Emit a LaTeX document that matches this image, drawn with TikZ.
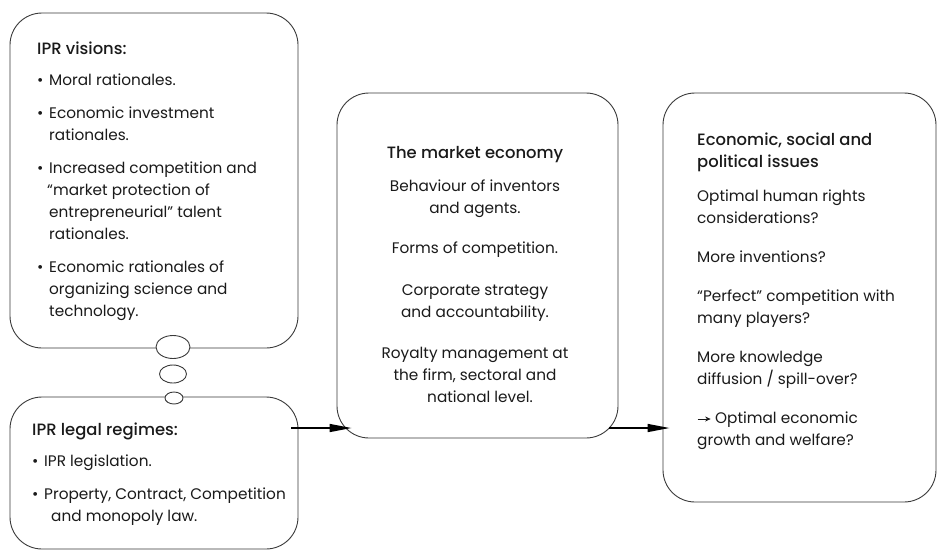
\documentclass[tikz,border=0pt]{standalone}
\usepackage{fontspec}
\IfFontExistsTF{Poppins Medium}%
  {\setmainfont{Poppins}[BoldFont=Poppins Medium]}%
  {\setmainfont{Poppins}}
\usetikzlibrary{arrows.meta,calc,shapes.geometric}

\definecolor{edge}{HTML}{3A3A3A}
\definecolor{ink}{HTML}{1A1A1A}

% bullet item with hanging indent, and box headings
\newcommand{\itm}{\makebox[12pt][l]{•}}
\newcommand{\hang}{\hspace*{12pt}}
\newcommand{\heading}[1]{{\fontsize{16.4}{22}\selectfont\bfseries #1}}

\begin{document}
\begin{tikzpicture}[x=1pt,y=-1pt,
  card/.style={draw=edge, line width=0.9pt, rounded corners=32pt,
    rectangle, inner sep=0pt, fill=white},
  bubble/.style={draw=edge, line width=0.9pt, ellipse, fill=white, inner sep=0pt},
  txt/.style={text=ink, inner sep=0pt, font=\fontsize{15.3}{22}\selectfont},
  flow/.style={draw=black, line width=1.4pt, -{Triangle[length=22pt,width=8pt]}}
]
\useasboundingbox (0,0) rectangle (937,550);

% boxes
\node[card, minimum width=288pt, minimum height=335pt] (visions) at (154,180.5) {};
\node[card, minimum width=288pt, minimum height=152pt] (legal) at (154,473) {};
\node[card, minimum width=281pt, minimum height=345pt] (market) at (477.5,265.5) {};
\node[card, minimum width=273pt, minimum height=409pt] (issues) at (799.5,297.5) {};

% thought bubbles joining the two left boxes
\node[bubble, minimum width=34pt, minimum height=23pt] (b1) at (173,347) {};
\node[bubble, minimum width=27pt, minimum height=18pt] (b2) at (173,374) {};
\node[bubble, minimum width=18pt, minimum height=12pt] (b3) at (174,398) {};

% texts
\node[txt, anchor=north west, align=left] (tvis) at (37,39) {%
  \rule{0pt}{15pt}\heading{IPR visions:}\\[9pt]
  \itm Moral rationales.\\[11pt]
  \itm Economic investment\\
  \hang rationales.\\[11pt]
  \itm Increased competition and\\
  \hspace*{10pt}“market protection of\\
  \hang entrepreneurial” talent\\
  \hang rationales.\\[11pt]
  \itm Economic rationales of\\
  \hang organizing science and\\
  \hang technology.};

\node[txt, anchor=north west, align=left] (tleg) at (32,420) {%
  \rule{0pt}{15pt}\heading{IPR legal regimes:}\\[9pt]
  \itm IPR legislation.\\[11pt]
  \itm Property, Contract, Competition\\
  \hspace*{19pt}and monopoly law.};

\node[txt, anchor=north, align=center] (tmar) at (475,143) {%
  \rule{0pt}{15pt}\heading{The market economy}\\[11pt]
  Behaviour of inventors\\
  and agents.\\[18pt]
  Forms of competition.\\[20pt]
  Corporate strategy\\
  and accountability.\\[19pt]
  Royalty management at\\
  the firm, sectoral and\\
  \hspace*{10pt}national level.};

\node[txt, anchor=north west, align=left] (tiss) at (697,130) {%
  \rule{0pt}{15pt}\heading{Economic, social and}\\
  \heading{political issues}\\[12pt]
  Optimal human rights\\
  considerations?\\[17pt]
  More inventions?\\[17pt]
  “Perfect” competition with\\
  many players?\\[17pt]
  More knowledge\\
  diffusion / spill-over?\\[17pt]
  \tikz[baseline=-4.2pt]\draw[line width=0.9pt,-{Stealth[length=5.5pt,width=5pt]}] (0pt,0pt) -- (13pt,0pt);\ Optimal economic\\
  growth and welfare?};

% connectors
\coordinate (row) at (0,428);
\draw[flow] ([xshift=-7pt]legal.east |- row) -- ([xshift=15pt]market.west |- row);
\draw[flow] ([xshift=-9pt]market.east |- row) -- ([xshift=7pt]issues.west |- row);
\end{tikzpicture}
\end{document}
